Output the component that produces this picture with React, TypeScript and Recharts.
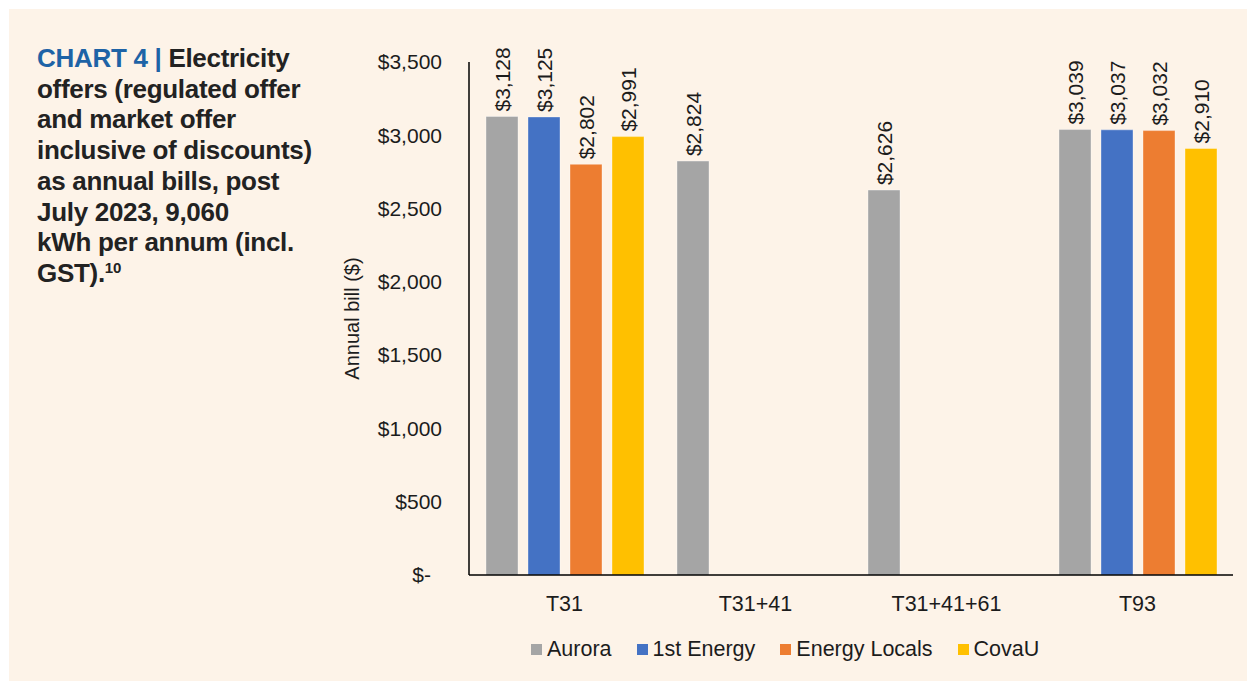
import { BarChart, Bar, XAxis, YAxis, LabelList } from 'recharts';

const categories = ['T31', 'T31+41', 'T31+41+61', 'T93'];
const aurora = [3128, 2824, 2626, 3039];
const firstEnergy = [3125, null, null, 3037];
const energyLocals = [2802, null, null, 3032];
const covaU = [2991, null, null, 2910];
const yTicks = [0, 500, 1000, 1500, 2000, 2500, 3000, 3500];

const series = [
  { key: 'aurora', name: 'Aurora', color: '#A5A5A5' },
  { key: 'firstEnergy', name: '1st Energy', color: '#4472C4' },
  { key: 'energyLocals', name: 'Energy Locals', color: '#ED7D31' },
  { key: 'covaU', name: 'CovaU', color: '#FFC000' },
];

const data = categories.map((name, i) => ({
  name,
  aurora: aurora[i],
  firstEnergy: firstEnergy[i],
  energyLocals: energyLocals[i],
  covaU: covaU[i],
}));

const FONT = '"Liberation Sans", Arial, Helvetica, sans-serif';
const INK = '#1c1c1c';

const money = (v: number) => '$' + v.toLocaleString('en-US');

const YTick = (props: any) => {
  const { x, y, payload } = props;
  const zero = payload.value === 0;
  return (
    <text
      x={zero ? x - 11 : x}
      y={y}
      dy="0.35em"
      textAnchor="end"
      fontSize={21}
      fontFamily={FONT}
      fill={INK}
    >
      {zero ? '$-' : money(payload.value)}
    </text>
  );
};

const BarLabel = (props: any) => {
  const { x, y, width, value } = props;
  if (value == null) return null;
  const cx = x + width / 2;
  const ty = y - 5;
  return (
    <text
      transform={`translate(${cx},${ty}) rotate(-90)`}
      textAnchor="start"
      dominantBaseline="central"
      fontSize={21}
      fontFamily={FONT}
      fill={INK}
    >
      {money(value)}
    </text>
  );
};

const LegendBox = () => (
  <div style={{ display: 'flex', alignItems: 'center', fontFamily: FONT, fontSize: 21.5, color: INK }}>
    {series.map((s) => (
      <div key={s.key} style={{ display: 'flex', alignItems: 'center', marginRight: 25 }}>
        <span style={{ width: 11, height: 11, background: s.color, display: 'inline-block', marginRight: 5 }} />
        <span>{s.name}</span>
      </div>
    ))}
  </div>
);

export default function App() {
  return (
    <div style={{ position: 'fixed', left: 0, top: 0, width: 1247, height: 681, background: '#fff', overflow: 'hidden' }}>
      <div style={{ position: 'absolute', left: 9, top: 9, right: 0, bottom: 0, background: '#FDF3E8' }} />
      <div
        style={{
          position: 'absolute',
          left: 37,
          top: 43,
          fontFamily: FONT,
          fontWeight: 'bold',
          fontSize: 26,
          lineHeight: '30.7px',
          letterSpacing: -0.3,
          color: '#222',
        }}
      >
        <span style={{ color: '#1E63A6' }}>CHART 4 |</span> Electricity
        <br />
        offers (regulated offer
        <br />
        and market offer
        <br />
        inclusive of discounts)
        <br />
        as annual bills, post
        <br />
        July 2023, 9,060
        <br />
        kWh per annum (incl.
        <br />
        GST).<sup style={{ fontSize: 15, verticalAlign: 'top', lineHeight: '20px' }}>10</sup>
      </div>
      <div style={{ position: 'absolute', left: 0, top: 0 }}>
        <BarChart
          width={1247}
          height={681}
          data={data}
          margin={{ top: 62, right: 14, bottom: 76, left: 348 }}
          barCategoryGap={17}
          barGap={10}
        >
          <XAxis
            dataKey="name"
            height={30}
            tickLine={false}
            tickSize={0}
            tickMargin={21}
            axisLine={{ stroke: '#000', strokeWidth: 1.5 }}
            tick={{ fontSize: 21.5, fontFamily: FONT, fill: INK }}
            interval={0}
          />
          <YAxis
            width={121}
            domain={[0, 3500]}
            ticks={yTicks}
            tickLine={false}
            tickSize={0}
            tickMargin={27}
            axisLine={{ stroke: '#000', strokeWidth: 1.5 }}
            tick={<YTick />}
            label={{
              content: (p: any) => {
                const vb = p.viewBox;
                return (
                  <text
                    transform={`translate(${vb.x + 4},${vb.y + vb.height / 2}) rotate(-90)`}
                    textAnchor="middle"
                    dominantBaseline="central"
                    fontSize={20}
                    fontFamily={FONT}
                    fill={INK}
                  >
                    Annual bill ($)
                  </text>
                );
              },
            }}
          />
          {series.map((s) => (
            <Bar
              key={s.key}
              dataKey={s.key}
              name={s.name}
              fill={s.color}
              stroke="#ffffff"
              strokeOpacity={0.35}
              isAnimationActive={false}
            >
              <LabelList dataKey={s.key} content={<BarLabel />} />
            </Bar>
          ))}
        </BarChart>
      </div>
      <div style={{ position: 'absolute', left: 531, top: 637 }}>
        <LegendBox />
      </div>
    </div>
  );
}
